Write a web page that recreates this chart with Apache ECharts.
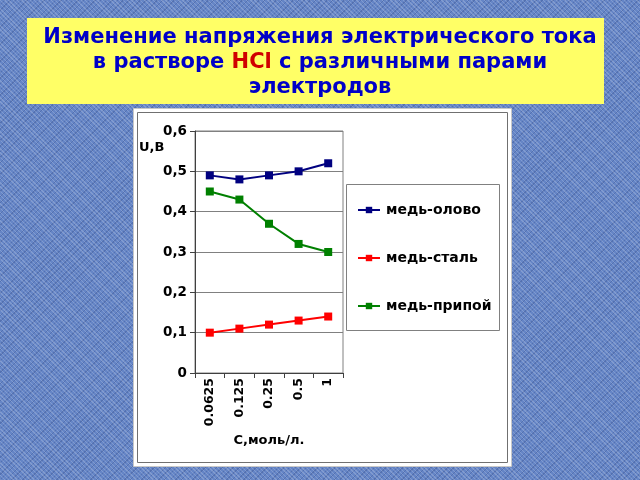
<!DOCTYPE html>
<html>
<head>
<meta charset="utf-8">
<script src="https://cdn.jsdelivr.net/npm/echarts@6/dist/echarts.min.js"></script>
<style>
html,body{margin:0;padding:0;width:640px;height:480px;overflow:hidden;}
body{
  background-color:#6585c6;
  background-image:
    repeating-linear-gradient(45deg, rgba(255,255,255,0.18) 0 1px, rgba(0,0,0,0) 1px 3px),
    repeating-linear-gradient(-45deg, rgba(20,40,100,0.22) 0 1px, rgba(0,0,0,0) 1px 4px);
}
#c{width:640px;height:480px;}
</style>
</head>
<body>
<div id="c"></div>
<script>
var categories = ['0.0625', '0.125', '0.25', '0.5', '1'];
var seriesNames = ['медь-олово', 'медь-сталь', 'медь-припой'];
var tinValues = [0.49, 0.48, 0.49, 0.50, 0.52];
var steelValues = [0.10, 0.11, 0.12, 0.13, 0.14];
var solderValues = [0.45, 0.43, 0.37, 0.32, 0.30];
var seriesColors = ['#000080', '#ff0000', '#008000'];

var chart = echarts.init(document.getElementById('c'));
var font = 'DejaVu Sans';

function mkSeries(name, data, color) {
  return {
    name: name, type: 'line', data: data,
    symbol: 'rect', symbolSize: 8,
    itemStyle: {color: color},
    lineStyle: {color: color, width: 2},
    emphasis: {disabled: true},
    animation: false
  };
}

chart.setOption({
  backgroundColor: 'transparent',
  animation: false,
  textStyle: {fontFamily: font},
  title: {
    left: 315, top: 20, textAlign: 'center',
    text: '{a|Изменение напряжения электрического тока}\n{a|в растворе }{r|HCl}{a| с различными парами}\n{a|электродов}',
    textStyle: {
      rich: {
        a: {fontFamily: font, fontSize: 21, fontWeight: 'bold', color: '#0000c8', lineHeight: 25},
        r: {fontFamily: font, fontSize: 21, fontWeight: 'bold', color: '#d00000', lineHeight: 25}
      }
    }
  },
  graphic: [
    {type: 'rect', z: -10, shape: {x: 27, y: 18, width: 577, height: 86}, style: {fill: '#ffff66', stroke: null}},
    {type: 'rect', z: -10, shape: {x: 133.5, y: 108.5, width: 378, height: 358}, style: {fill: '#ffffff', stroke: '#c8c8c8', lineWidth: 1}},
    {type: 'rect', z: -9, shape: {x: 137.5, y: 112.5, width: 370, height: 350}, style: {fill: '#ffffff', stroke: '#707070', lineWidth: 1}},
    {type: 'rect', z: -9, shape: {x: 346.5, y: 184.5, width: 153, height: 146}, style: {fill: '#ffffff', stroke: '#808080', lineWidth: 1}},
    {type: 'text', z: 10, left: 139, top: 141, style: {text: 'U,B', fontFamily: font, fontSize: 13, fontWeight: 'bold', fill: '#000'}}
  ],
  legend: {
    orient: 'vertical',
    left: 357, top: 203,
    itemWidth: 22, itemHeight: 8,
    itemGap: 34,
    padding: 0,
    data: seriesNames,
    selectedMode: false,
    textStyle: {fontFamily: font, fontSize: 14, fontWeight: 'bold', color: '#000', padding: [0, 0, 0, 1]}
  },
  grid: {
    left: 195, right: 297, top: 131, bottom: 107,
    show: true, borderColor: '#808080', borderWidth: 1, backgroundColor: '#ffffff'
  },
  xAxis: {
    type: 'category',
    data: categories,
    boundaryGap: true,
    name: 'C,моль/л.',
    nameLocation: 'middle',
    nameGap: 61,
    nameTextStyle: {fontFamily: font, fontSize: 13, fontWeight: 'bold', color: '#000'},
    axisLine: {lineStyle: {color: '#404040', width: 1}},
    axisTick: {show: true, length: 5, lineStyle: {color: '#404040'}},
    axisLabel: {rotate: 90, margin: 5, fontFamily: font, fontSize: 12.5, fontWeight: 'bold', color: '#000'},
    splitLine: {show: false}
  },
  yAxis: {
    type: 'value',
    min: 0, max: 0.6, interval: 0.1,
    axisLine: {show: true, lineStyle: {color: '#404040', width: 1}},
    axisTick: {show: true, length: 5, lineStyle: {color: '#404040'}},
    axisLabel: {
      margin: 8, fontFamily: font, fontSize: 13.5, fontWeight: 'bold', color: '#000',
      formatter: function (v) { return v === 0 ? '0' : v.toFixed(1).replace('.', ','); }
    },
    splitLine: {show: true, lineStyle: {color: '#808080', width: 1}}
  },
  series: [
    mkSeries(seriesNames[0], tinValues, seriesColors[0]),
    mkSeries(seriesNames[1], steelValues, seriesColors[1]),
    mkSeries(seriesNames[2], solderValues, seriesColors[2])
  ]
});
</script>
</body>
</html>
